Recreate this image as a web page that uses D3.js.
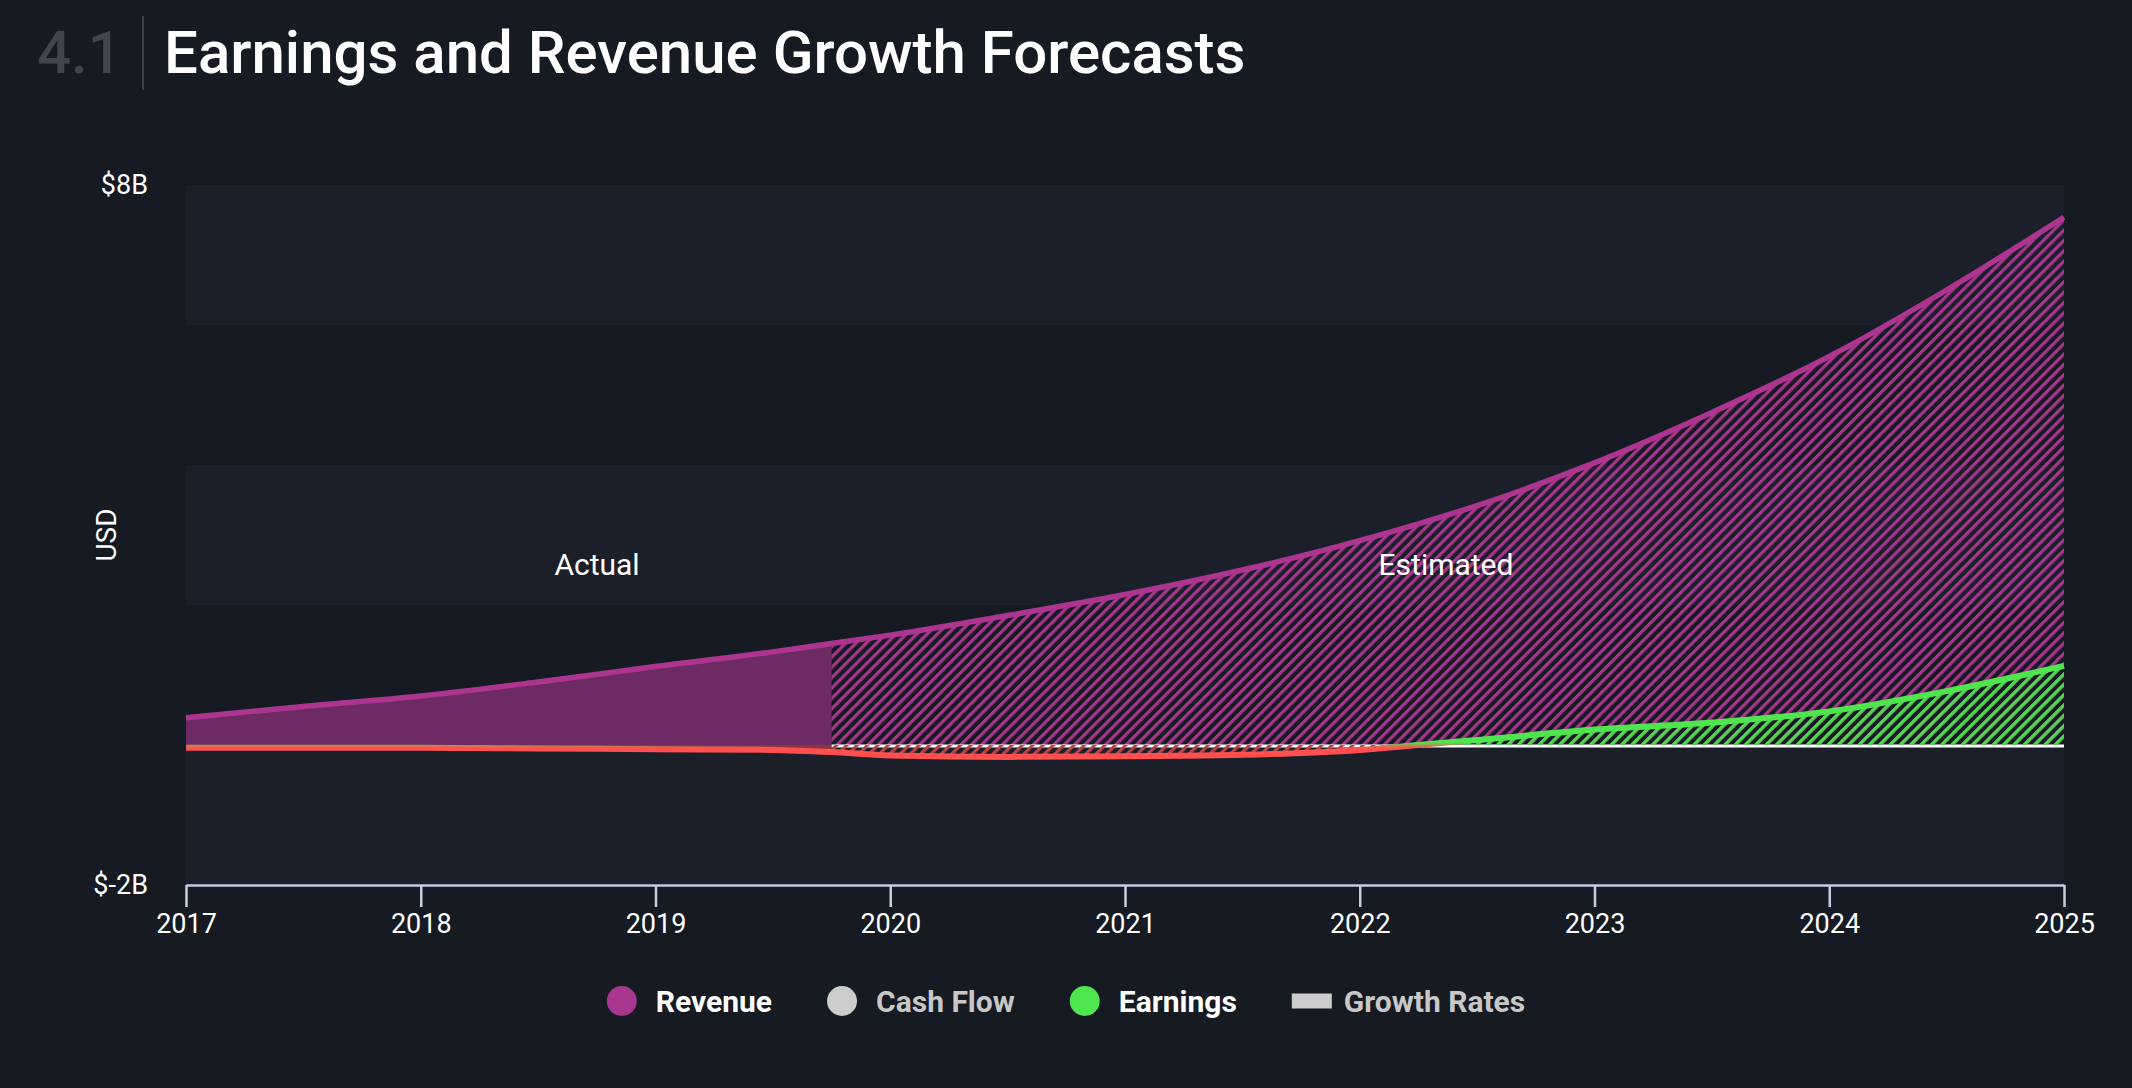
<!DOCTYPE html>
<html>
<head>
<meta charset="utf-8">
<script src="https://cdn.jsdelivr.net/npm/d3@7"></script>
<style>
  html, body { margin: 0; padding: 0; background: #151a23; }
  svg { display: block; font-family: Roboto, "Open Sans", sans-serif; }
</style>
</head>
<body>
<div id="chart"></div>
<script>
const width = 2132;
const height = 1088;

// données (milliards USD)
const years = [2017, 2017.5, 2018, 2018.5, 2019, 2019.5, 2019.75, 2020, 2020.5, 2021, 2021.5, 2022, 2022.25, 2022.5, 2023, 2023.5, 2024, 2024.5, 2025];
const revenue = [0.39, 0.55, 0.70, 0.90, 1.12, 1.33, 1.45, 1.57, 1.85, 2.15, 2.50, 2.92, 3.16, 3.42, 4.03, 4.75, 5.55, 6.50, 7.54];
const earnings = [-0.04, -0.04, -0.04, -0.05, -0.06, -0.07, -0.10, -0.15, -0.17, -0.16, -0.14, -0.07, 0.0, 0.07, 0.22, 0.32, 0.48, 0.77, 1.13];
const splitYear = 2019.75;
const xTicks = [2017, 2018, 2019, 2020, 2021, 2022, 2023, 2024, 2025];
const yTicks = [-2, 8];
const yTickLabels = ["$-2B", "$8B"];
const legendNames = ["Revenue", "Cash Flow", "Earnings", "Growth Rates"];
const legendColors = ["#a93790", "#cccccc", "#4fe54f", "#cccccc"];
const legendActive = [true, false, true, false];

const margin = { top: 185, right: 68, bottom: 203, left: 186 };

const svg = d3.select("#chart")
    .append("svg")
    .attr("width", width)
    .attr("height", height);

svg.append("rect").attr("width", width).attr("height", height).attr("fill", "#151a23");

const x = d3.scaleLinear()
    .domain([2017, 2025])
    .range([margin.left, width - margin.right]);

const y = d3.scaleLinear()
    .domain([-2, 8])
    .range([height - margin.bottom, margin.top]);

const data = years.map((yr, i) => ({ year: yr, rev: revenue[i], earn: earnings[i] }));

// 1. Motifs hachurés et clips
const defs = svg.append("defs");

function hatch(id, color) {
    const p = defs.append("pattern")
        .attr("id", id)
        .attr("patternUnits", "userSpaceOnUse")
        .attr("width", 7.3)
        .attr("height", 7.3)
        .attr("patternTransform", "rotate(45)");
    p.append("rect").attr("width", 3.2).attr("height", 7.3).attr("fill", color);
}
hatch("hatch-rev", "#a8368c");
hatch("hatch-earn", "#4ddb4d");
hatch("hatch-neg", "#b84444");

defs.append("clipPath").attr("id", "clip-actual")
    .append("rect")
    .attr("x", x(2017)).attr("y", 0)
    .attr("width", x(splitYear) - x(2017)).attr("height", height);

defs.append("clipPath").attr("id", "clip-est")
    .append("rect")
    .attr("x", x(splitYear)).attr("y", 0)
    .attr("width", x(2025) - x(splitYear)).attr("height", height);

defs.append("clipPath").attr("id", "clip-pos")
    .append("rect")
    .attr("x", 0).attr("y", 0)
    .attr("width", width).attr("height", y(0));

defs.append("clipPath").attr("id", "clip-neg")
    .append("rect")
    .attr("x", 0).attr("y", y(0))
    .attr("width", width).attr("height", height - y(0));

const grad = defs.append("linearGradient")
    .attr("id", "earn-grad")
    .attr("gradientUnits", "userSpaceOnUse")
    .attr("x1", 0).attr("x2", 0)
    .attr("y1", y(8)).attr("y2", y(-2));
const zeroOff = (y(0) - y(8)) / (y(-2) - y(8));
grad.append("stop").attr("offset", zeroOff - 0.004).attr("stop-color", "#4fe54f");
grad.append("stop").attr("offset", zeroOff + 0.004).attr("stop-color", "#ff4f4f");

// 2. Bandes de fond
const bands = d3.range(-2, 8, 2).filter((d, i) => i % 2 === 0);
svg.append("g")
    .selectAll("rect")
    .data(bands)
    .join("rect")
    .attr("x", x(2017))
    .attr("width", x(2025) - x(2017))
    .attr("y", d => y(d + 2))
    .attr("height", d => y(d) - y(d + 2))
    .attr("fill", "#1a1f29");

// 3. Aires
const curve = d3.curveMonotoneX;

const revArea = d3.area()
    .x(d => x(d.year))
    .y0(y(0))
    .y1(d => y(d.rev))
    .curve(curve);

const earnArea = d3.area()
    .x(d => x(d.year))
    .y0(y(0))
    .y1(d => y(d.earn))
    .curve(curve);

const revLine = d3.line().x(d => x(d.year)).y(d => y(d.rev)).curve(curve);
const earnLine = d3.line().x(d => x(d.year)).y(d => y(d.earn)).curve(curve);

svg.append("path")
    .attr("clip-path", "url(#clip-actual)")
    .attr("d", revArea(data))
    .attr("fill", "#6e2a63");

svg.append("path")
    .attr("clip-path", "url(#clip-est)")
    .attr("d", revArea(data))
    .attr("fill", "url(#hatch-rev)");

// ligne zéro (partie estimée)
svg.append("line")
    .attr("x1", x(splitYear)).attr("x2", x(2025))
    .attr("y1", y(0) + 1).attr("y2", y(0) + 1)
    .attr("stroke", "#ffffff")
    .attr("stroke-width", 3);

const est = svg.append("g").attr("clip-path", "url(#clip-est)");
est.append("path")
    .attr("clip-path", "url(#clip-pos)")
    .attr("d", earnArea(data))
    .attr("fill", "url(#hatch-earn)");
est.append("path")
    .attr("clip-path", "url(#clip-neg)")
    .attr("d", earnArea(data))
    .attr("fill", "url(#hatch-neg)");

svg.append("path")
    .attr("clip-path", "url(#clip-actual)")
    .attr("d", earnArea(data))
    .attr("fill", "#ff4f4f")
    .attr("fill-opacity", 0.5);

// 4. Lignes
svg.append("path")
    .attr("d", earnLine(data))
    .attr("fill", "none")
    .attr("stroke", "url(#earn-grad)")
    .attr("stroke-width", 6);

svg.append("path")
    .attr("d", revLine(data))
    .attr("fill", "none")
    .attr("stroke", "#ad3590")
    .attr("stroke-width", 5.5);

// 5. Libellés Actual / Estimated
svg.append("text")
    .attr("x", 597).attr("y", 575)
    .attr("text-anchor", "middle")
    .attr("fill", "#ffffff")
    .attr("font-size", 30)
    .text("Actual");

svg.append("text")
    .attr("x", 1446).attr("y", 575)
    .attr("text-anchor", "middle")
    .attr("fill", "#ffffff")
    .attr("font-size", 30)
    .text("Estimated");

// 6. Axes
const xAxis = d3.axisBottom(x)
    .tickValues(xTicks)
    .tickFormat(d3.format("d"))
    .tickSize(22)
    .tickSizeOuter(0)
    .tickPadding(7);

const gx = svg.append("g")
    .attr("transform", `translate(0,${y(-2)})`)
    .call(xAxis);
gx.select(".domain").attr("stroke", "#c5cce0").attr("stroke-width", 2.5);
gx.selectAll(".tick line").attr("stroke", "#c5cce0").attr("stroke-width", 2.5);
gx.selectAll(".tick text")
    .attr("fill", "#ffffff")
    .attr("font-size", 27)
    .attr("font-family", "Roboto, sans-serif");

svg.append("g")
    .selectAll("text")
    .data(yTicks)
    .join("text")
    .attr("x", 148)
    .attr("y", d => y(d))
    .attr("dy", "0.35em")
    .attr("text-anchor", "end")
    .attr("fill", "#ffffff")
    .attr("font-size", 27)
    .text((d, i) => yTickLabels[i]);

svg.append("text")
    .attr("transform", `translate(116,535) rotate(-90)`)
    .attr("text-anchor", "middle")
    .attr("fill", "#ffffff")
    .attr("font-size", 28)
    .text("USD");

// 7. Titre
svg.append("text")
    .attr("x", 37).attr("y", 73)
    .attr("fill", "#41464e")
    .attr("font-size", 60)
    .attr("font-weight", 500)
    .text("4.1");

svg.append("line")
    .attr("x1", 143).attr("x2", 143)
    .attr("y1", 16).attr("y2", 90)
    .attr("stroke", "#3b4048")
    .attr("stroke-width", 2);

svg.append("text")
    .attr("x", 164).attr("y", 73)
    .attr("fill", "#ffffff")
    .attr("font-size", 60)
    .attr("font-weight", 500)
    .text("Earnings and Revenue Growth Forecasts");

// 8. Légende
const legend = svg.append("g").attr("transform", "translate(0,1001)");
let cursor = 0;
legendNames.forEach((name, i) => {
    const item = legend.append("g").attr("transform", `translate(${cursor},0)`);
    if (name === "Growth Rates") {
        item.append("rect").attr("x", 0).attr("y", -7.5).attr("width", 40).attr("height", 15)
            .attr("fill", legendColors[i]);
    } else {
        item.append("circle").attr("cx", 15).attr("cy", 0).attr("r", 15)
            .attr("fill", legendColors[i]);
    }
    const t = item.append("text")
        .attr("x", name === "Growth Rates" ? 52 : 49)
        .attr("dy", "0.35em")
        .attr("fill", legendActive[i] ? "#ffffff" : "#c8c8c8")
        .attr("font-size", 30)
        .attr("font-weight", 700)
        .text(name);
    cursor += (name === "Growth Rates" ? 52 : 49) + t.node().getComputedTextLength() + 55;
});
const lw = cursor - 55;
legend.attr("transform", `translate(${(width - lw) / 2},1001)`);
</script>
</body>
</html>
